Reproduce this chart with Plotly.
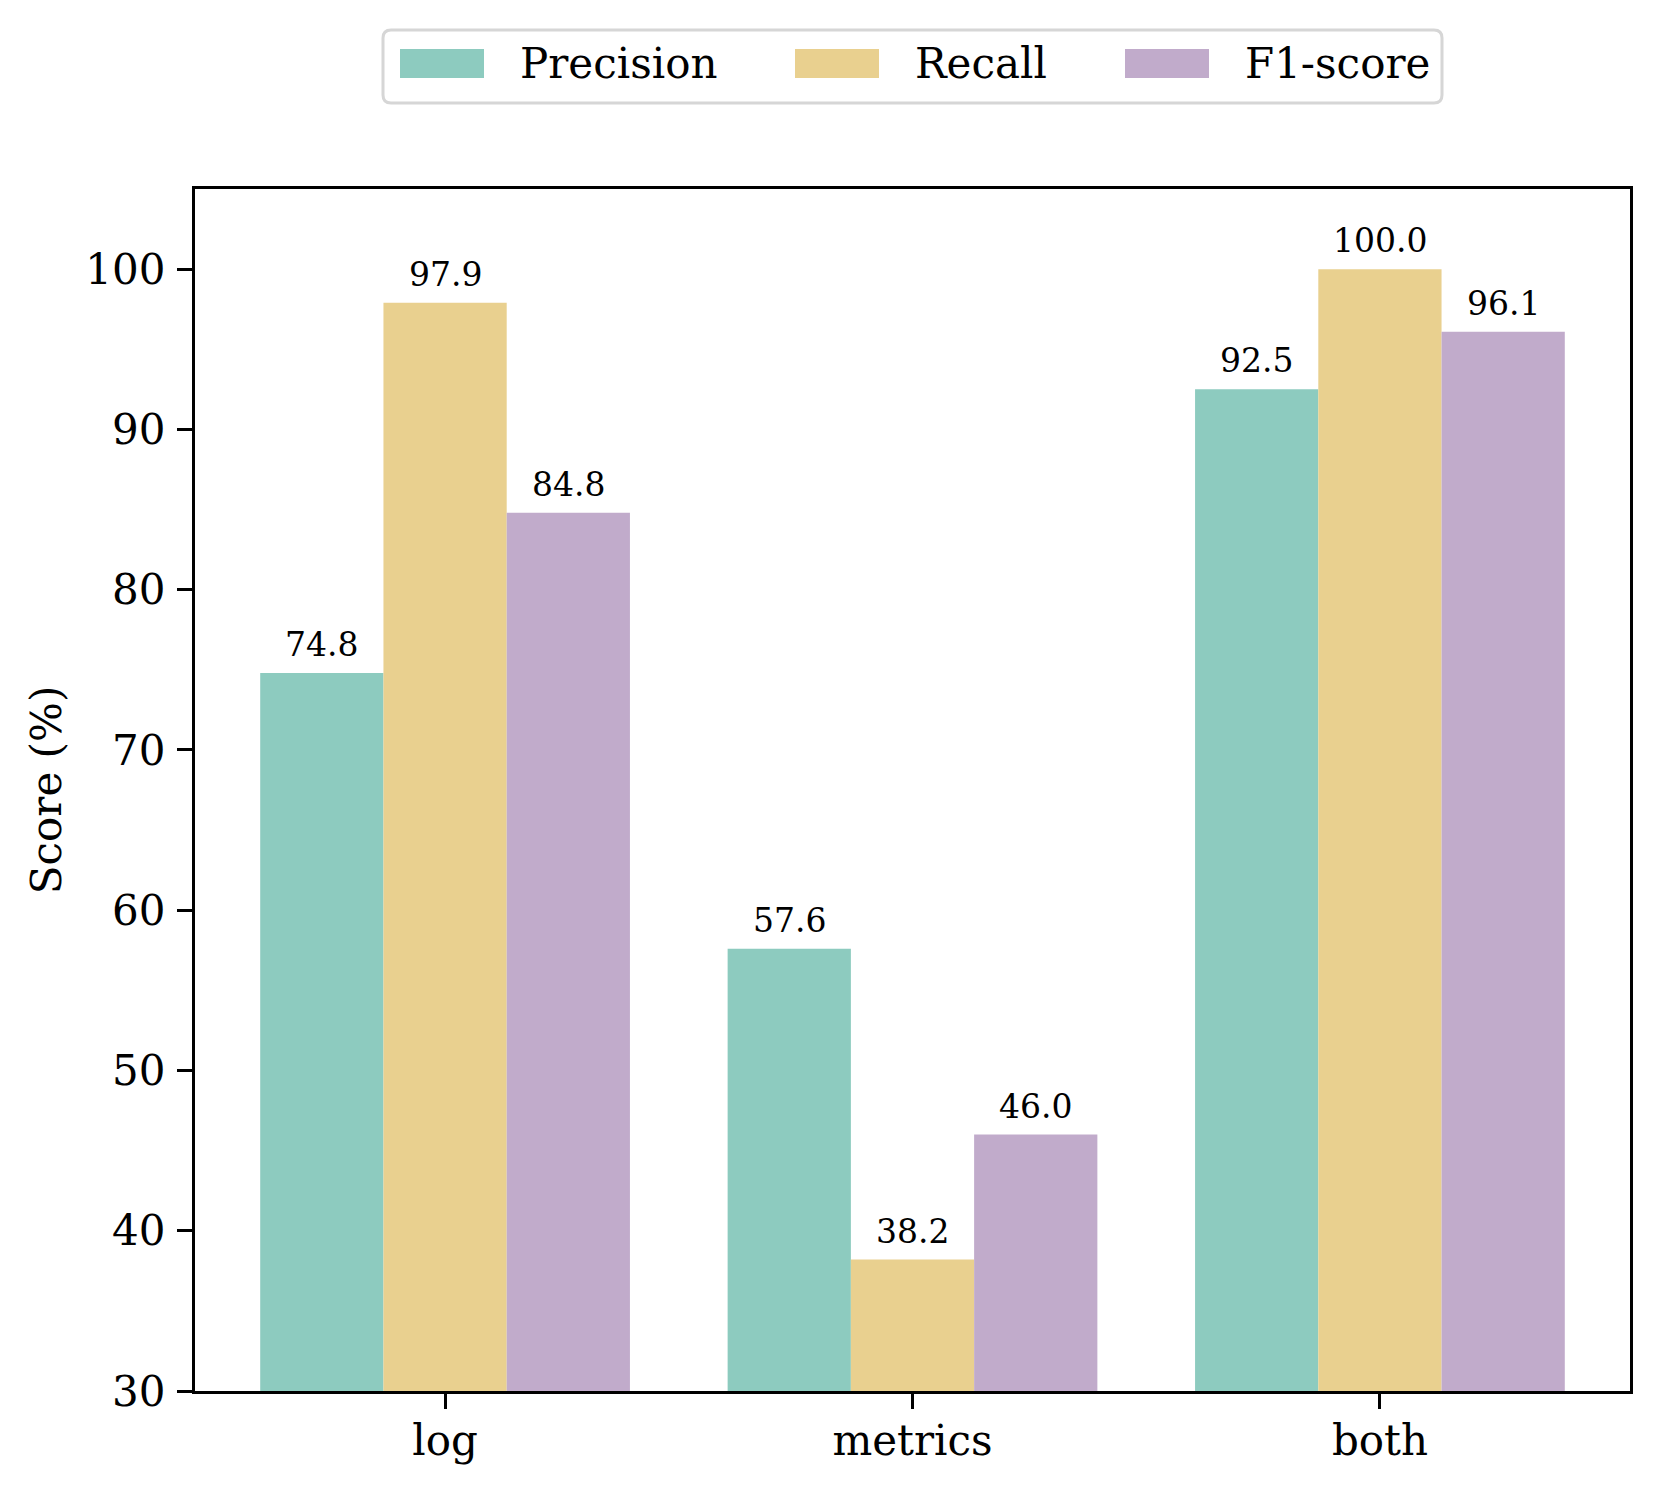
import plotly.graph_objects as go

categories = ["log", "metrics", "both"]
series_names = ["Precision", "Recall", "F1-score"]
precision = [74.8, 57.6, 92.5]
recall = [97.9, 38.2, 100.0]
f1 = [84.8, 46.0, 96.1]
series_values = [precision, recall, f1]
colors = ["#8DCBBF", "#E9D08F", "#C1ABCB"]
y_ticks = [30, 40, 50, 60, 70, 80, 90, 100]

W, H = 1660, 1491
OFF = 8  # browser body margin
L, R, T, B = 195 - OFF, 1630 - OFF, 189 - OFF, 1391 - OFF
FONT = "DejaVu Serif"

bargap = 0.209
bar_w = (1 - bargap) / 3
xpos = list(range(len(categories)))

fig = go.Figure()
for j, (name, vals, col) in enumerate(zip(series_names, series_values, colors)):
    fig.add_trace(go.Bar(
        x=xpos, y=vals, name=name, marker=dict(color=col, line=dict(width=0)),
        showlegend=False,
    ))
    for i, v in enumerate(vals):
        fig.add_annotation(
            x=i + (j - 1) * bar_w, y=v, text=f"{v:.1f}", showarrow=False,
            xref="x", yref="y", yanchor="bottom", yshift=7,
            font=dict(family=FONT, size=33, color="black"),
        )

# manual legend (pixel layout -> paper coords)
def px(xp):
    return (xp - OFF - L) / (R - L)

def py(yp):
    return (B - (yp - OFF)) / (B - T)

x0, x1, y0, y1 = px(383), px(1442), py(103), py(30)
rx, ry = 8 / (R - L), 8 / (B - T)
path = (f"M {x0+rx},{y0} L {x1-rx},{y0} Q {x1},{y0} {x1},{y0+ry} "
        f"L {x1},{y1-ry} Q {x1},{y1} {x1-rx},{y1} L {x0+rx},{y1} "
        f"Q {x0},{y1} {x0},{y1-ry} L {x0},{y0+ry} Q {x0},{y0} {x0+rx},{y0} Z")
shapes = [dict(type="path", path=path, xref="paper", yref="paper",
               line=dict(color="#d6d6d6", width=3), fillcolor="white", layer="above")]
swatch_left = [400, 795, 1125]
text_left = [518, 913, 1243]
for name, col, sx, tx in zip(series_names, colors, swatch_left, text_left):
    shapes.append(dict(type="rect", xref="paper", yref="paper",
                       x0=px(sx), x1=px(sx + 84), y0=py(78), y1=py(49),
                       fillcolor=col, line=dict(width=0), layer="above"))
    fig.add_annotation(x=px(tx), y=py(63), xref="paper", yref="paper",
                       text=name, showarrow=False, xanchor="left", yanchor="middle",
                       font=dict(family=FONT, size=42, color="black"))

axis_common = dict(
    showline=True, linecolor="black", linewidth=3.3, mirror=True,
    ticks="outside", ticklen=15, tickwidth=3.3, tickcolor="black",
    showgrid=False, zeroline=False,
    tickfont=dict(family=FONT, size=42, color="black"),
)

fig.update_layout(
    width=W, height=H,
    margin=dict(l=L, r=W - R, t=T, b=H - B, pad=0),
    paper_bgcolor="white", plot_bgcolor="white",
    barmode="group", bargap=bargap, bargroupgap=0,
    shapes=shapes,
    xaxis=dict(tickvals=xpos, ticktext=categories, range=[-0.535, 2.535],
               ticklabelstandoff=-5, **axis_common),
    yaxis=dict(range=[30, 105], tickvals=y_ticks, ticklabelstandoff=3,
               title=dict(text="Score (%)", standoff=11,
                          font=dict(family=FONT, size=42, color="black")),
               **axis_common),
    showlegend=False,
)

fig.write_html("out.html")
